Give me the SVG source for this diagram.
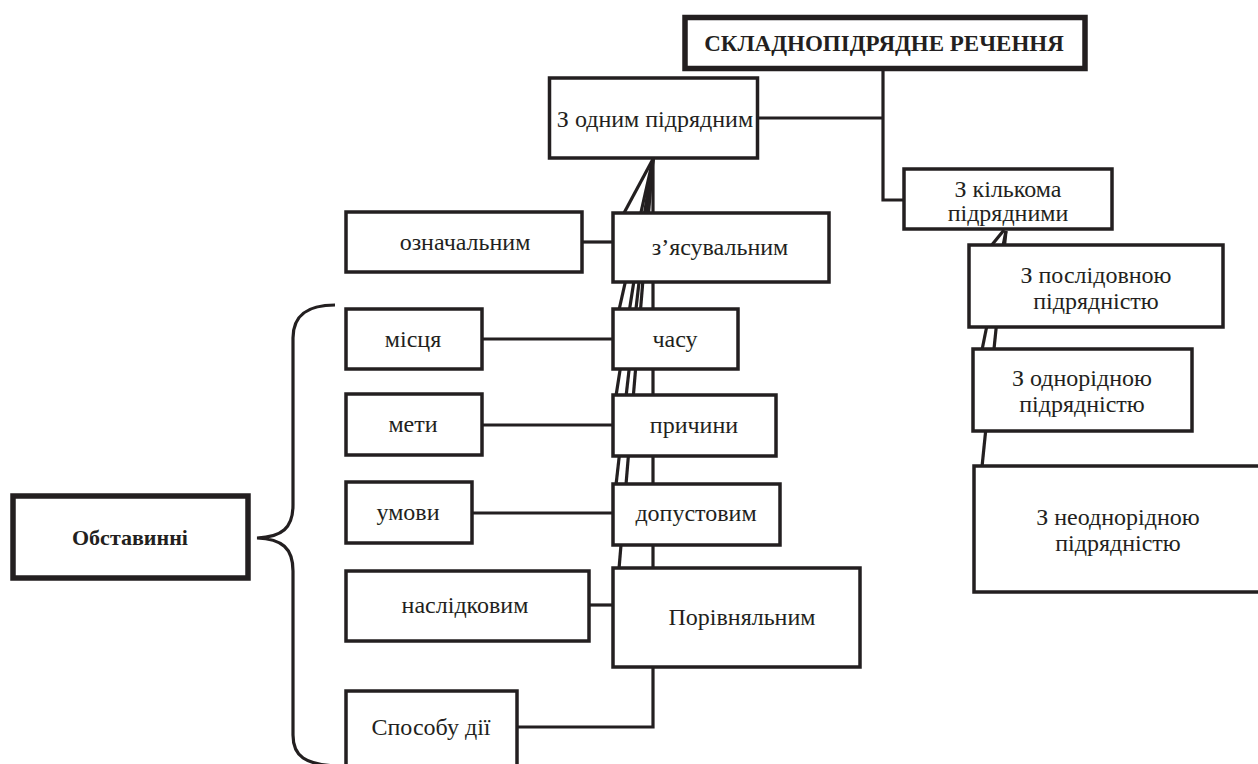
<svg xmlns="http://www.w3.org/2000/svg" width="1258" height="764" viewBox="0 0 1258 764">
<style>
.box{fill:#fff;stroke:#231f20;stroke-width:3.5}
.thick{fill:#fff;stroke:#231f20;stroke-width:5.5}
.ln{fill:none;stroke:#231f20;stroke-width:3.2;stroke-linejoin:miter}
.t{font-family:"Liberation Serif","DejaVu Serif",serif;font-size:24px;fill:#231f20;text-anchor:middle;dominant-baseline:central}
.b{font-family:"Liberation Serif","DejaVu Serif",serif;font-size:23px;font-weight:bold;fill:#231f20;text-anchor:middle;dominant-baseline:central}
</style>
<rect width="1258" height="764" fill="#fff"/>
<g id="connectors">
<polyline class="ln" points="883,71 883,200 905,200"/>
<line class="ln" x1="758" y1="118" x2="883" y2="118"/>
<line class="ln" x1="653" y1="159" x2="624" y2="213"/>
<line class="ln" x1="653" y1="159" x2="619" y2="310"/>
<line class="ln" x1="653" y1="159" x2="616" y2="396"/>
<line class="ln" x1="653" y1="159" x2="616" y2="485"/>
<line class="ln" x1="653" y1="159" x2="619" y2="569"/>
<polyline class="ln" points="653,159 653,727 517,727"/>
<line class="ln" x1="583" y1="242" x2="613" y2="242"/>
<line class="ln" x1="482" y1="339" x2="613" y2="339"/>
<line class="ln" x1="482" y1="425" x2="613" y2="425"/>
<line class="ln" x1="472" y1="513" x2="613" y2="513"/>
<line class="ln" x1="589" y1="605" x2="613" y2="605"/>
<line class="ln" x1="1004" y1="230" x2="991" y2="246"/>
<line class="ln" x1="1006" y1="231" x2="982" y2="350"/>
<line class="ln" x1="1006" y1="231" x2="982" y2="467"/>
<path class="ln" d="M335,305 C310,305 293,313 293,338 L293,505 C293,528 282,537 257,538 C282,539 293,548 293,571 L293,735 C293,757 306,764 335,766"/>
</g>
<g id="n-main"><rect class="thick" x="685" y="17.5" width="400" height="51"/><text class="b" x="884" y="43">СКЛАДНОПІДРЯДНЕ РЕЧЕННЯ</text></g>
<g id="n-one"><rect class="box" x="549.5" y="78" width="208" height="80"/><text class="t" x="655" y="119">З одним підрядним</text></g>
<g id="n-several"><rect class="box" x="904" y="169" width="208" height="60"/><text class="t" x="1008" y="189">З кількома</text><text class="t" x="1008" y="213">підрядними</text></g>
<g id="n-oznach"><rect class="box" x="346" y="212" width="236" height="60"/><text class="t" x="465" y="242">означальним</text></g>
<g id="n-zyas"><rect class="box" x="613" y="213" width="216" height="69"/><text class="t" x="720" y="247">з’ясувальним</text></g>
<g id="n-mists"><rect class="box" x="346" y="309" width="136" height="60"/><text class="t" x="413" y="339">місця</text></g>
<g id="n-chasu"><rect class="box" x="613" y="309" width="125" height="60"/><text class="t" x="675" y="339">часу</text></g>
<g id="n-mety"><rect class="box" x="346" y="394" width="136" height="61"/><text class="t" x="413" y="424">мети</text></g>
<g id="n-prychyny"><rect class="box" x="613" y="395" width="163" height="61"/><text class="t" x="694" y="425">причини</text></g>
<g id="n-umovy"><rect class="box" x="346" y="482" width="126" height="61"/><text class="t" x="408" y="512">умови</text></g>
<g id="n-dopust"><rect class="box" x="613" y="484" width="167" height="61"/><text class="t" x="696" y="513">допустовим</text></g>
<g id="n-nasl"><rect class="box" x="346" y="571" width="243" height="70"/><text class="t" x="465" y="605">наслідковим</text></g>
<g id="n-porivn"><rect class="box" x="613" y="568" width="247" height="99"/><text class="t" x="742" y="617">Порівняльним</text></g>
<g id="n-sposobu"><rect class="box" x="346" y="691" width="171" height="80"/><text class="t" x="431" y="727">Способу дії</text></g>
<g id="n-obst"><rect class="thick" x="13" y="496" width="235" height="82"/><text class="b" x="130" y="537" style="font-size:22px">Обставинні</text></g>
<g id="n-poslid"><rect class="box" x="969" y="245" width="254" height="82"/><text class="t" x="1096" y="275">З послідовною</text><text class="t" x="1096" y="301">підрядністю</text></g>
<g id="n-odnor"><rect class="box" x="973" y="349" width="219" height="82"/><text class="t" x="1082" y="378">З однорідною</text><text class="t" x="1082" y="404">підрядністю</text></g>
<g id="n-neodnor"><rect class="box" x="974" y="466" width="290" height="126"/><text class="t" x="1118" y="517">З неоднорідною</text><text class="t" x="1118" y="543">підрядністю</text></g>
</svg>
